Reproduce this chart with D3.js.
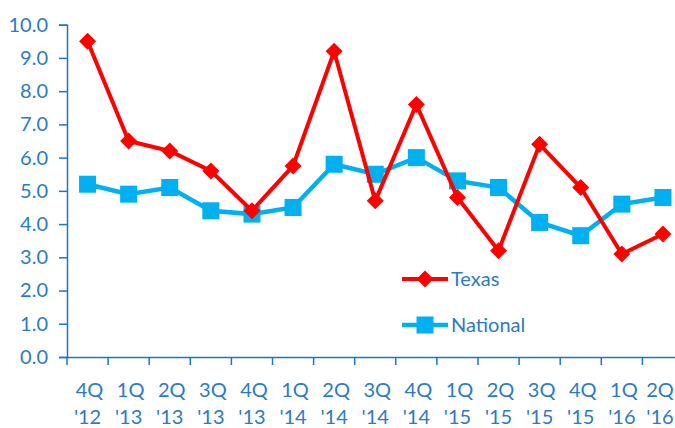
<!DOCTYPE html>
<html lang="en">
<head>
<meta charset="utf-8">
<title>Texas vs National</title>
<script src="https://d3js.org/d3.v7.min.js"></script>
<style>
  body { margin: 0; background: #fff; }
  text { font-family: Lato, "Open Sans", sans-serif; fill: #2B7BC4; }
</style>
</head>
<body>
<div id="chart"></div>
<script>
// quarters (two-line labels)
var quarters = ["4Q", "1Q", "2Q", "3Q", "4Q", "1Q", "2Q", "3Q", "4Q", "1Q", "2Q", "3Q", "4Q", "1Q", "2Q"];
var years = ["'12", "'13", "'13", "'13", "'13", "'14", "'14", "'14", "'14", "'15", "'15", "'15", "'15", "'16", "'16"];
var texas = [9.5, 6.5, 6.2, 5.6, 4.4, 5.75, 9.2, 4.7, 7.6, 4.8, 3.2, 6.4, 5.1, 3.1, 3.7];
var national = [5.2, 4.9, 5.1, 4.4, 4.3, 4.5, 5.8, 5.5, 6.0, 5.3, 5.1, 4.05, 3.65, 4.6, 4.8];
var yTicks = [0, 1, 2, 3, 4, 5, 6, 7, 8, 9, 10];

var w = 675, h = 428;
var mLeft = 67, mTop = 24.7, mBottom = 357;
var axisColor = "#1C75C8";
var fs = "20px";

var svg = d3.select("#chart").append("svg")
  .attr("width", w).attr("height", h);

var keys = d3.range(quarters.length);
var x = d3.scaleBand().domain(keys).range([mLeft, mLeft + 41.1 * keys.length]);
var y = d3.scaleLinear().domain([0, 10]).range([mBottom, mTop]);

// y axis
var yAxis = svg.append("g")
  .attr("transform", "translate(" + mLeft + ",0)")
  .call(d3.axisLeft(y).tickValues(yTicks).tickFormat(d3.format(".1f")).tickSizeOuter(0).tickSize(8).tickPadding(11));
yAxis.select(".domain").attr("stroke", axisColor).attr("stroke-width", 1.5);
yAxis.selectAll("line").attr("stroke", axisColor).attr("stroke-width", 1.5);
yAxis.selectAll("text").attr("fill", "#2B7BC4").style("font-size", fs).style("font-family", "Lato, sans-serif");

// x axis
var xAxis = svg.append("g")
  .attr("transform", "translate(0," + mBottom + ")")
  .call(d3.axisBottom(x).tickFormat("").tickSize(0).tickSizeOuter(0));
xAxis.select(".domain").attr("stroke", axisColor).attr("stroke-width", 1.5);
// tick marks at band edges
xAxis.selectAll(".edge").data(keys).enter().append("line")
  .attr("x1", function(d) { return x(d); }).attr("x2", function(d) { return x(d); })
  .attr("y1", 0).attr("y2", 8)
  .attr("stroke", axisColor).attr("stroke-width", 1.5);

var labels = svg.append("g");
labels.selectAll(".q").data(keys).enter().append("text")
  .attr("x", function(d) { return Math.min(x(d) + x.bandwidth() / 2 + 2, 660); })
  .attr("y", 397)
  .attr("text-anchor", "middle")
  .style("font-size", fs)
  .text(function(d) { return quarters[d]; });
labels.selectAll(".yr").data(keys).enter().append("text")
  .attr("x", function(d) { return Math.min(x(d) + x.bandwidth() / 2, 660); })
  .attr("y", 424)
  .attr("text-anchor", "middle")
  .style("font-size", fs)
  .text(function(d) { return years[d]; });

var cx = function(i) { return x(i) + x.bandwidth() / 2; };
var line = d3.line().x(function(d, i) { return cx(i); }).y(function(d) { return y(d); });

var square = d3.symbol().type(d3.symbolSquare).size(290);
var diamond = function(s) { return "M0," + (-s) + "L" + s + ",0L0," + s + "L" + (-s) + ",0Z"; };

// national series
svg.append("path").datum(national)
  .attr("d", line).attr("fill", "none")
  .attr("stroke", "#00B0F0").attr("stroke-width", 4.5);
svg.selectAll(".nat").data(national).enter().append("path")
  .attr("transform", function(d, i) { return "translate(" + cx(i) + "," + y(d) + ")"; })
  .attr("d", square).attr("fill", "#00B0F0");

// texas series
svg.append("path").datum(texas)
  .attr("d", line).attr("fill", "none")
  .attr("stroke", "#FF0000").attr("stroke-width", 4);
svg.selectAll(".tx").data(texas).enter().append("path")
  .attr("transform", function(d, i) { return "translate(" + cx(i) + "," + y(d) + ")"; })
  .attr("d", diamond(8.5)).attr("fill", "#FF0000");

// legend
var legend = [
  { name: "Texas", color: "#FF0000", y: 279, marker: diamond(8.5), sw: 4 },
  { name: "National", color: "#00B0F0", y: 325, marker: square(), sw: 4.5 }
];
var lg = svg.selectAll(".lg").data(legend).enter().append("g");
lg.append("line")
  .attr("x1", 402).attr("x2", 448)
  .attr("y1", function(d) { return d.y; }).attr("y2", function(d) { return d.y; })
  .attr("stroke", function(d) { return d.color; })
  .attr("stroke-width", function(d) { return d.sw; });
lg.append("path")
  .attr("transform", function(d) { return "translate(425," + d.y + ")"; })
  .attr("d", function(d) { return d.marker; })
  .attr("fill", function(d) { return d.color; });
lg.append("text")
  .attr("x", 451).attr("y", function(d) { return d.y; })
  .attr("dy", "0.35em")
  .style("font-size", fs)
  .text(function(d) { return d.name; });
</script>
</body>
</html>
